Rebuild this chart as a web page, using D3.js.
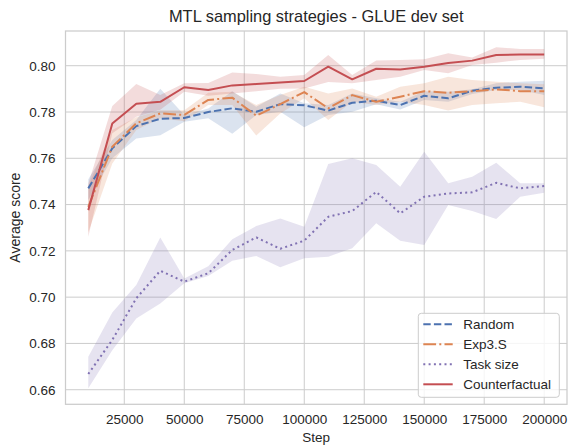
<!DOCTYPE html>
<html><head><meta charset="utf-8">
<script src="https://cdn.jsdelivr.net/npm/d3@7"></script>
<style>html,body{margin:0;padding:0;background:#fff;}</style>
</head><body>
<svg id="c" width="571" height="446"></svg>
<script>
const steps = [10000,20000,30000,40000,50000,60000,70000,80000,90000,100000,110000,120000,130000,140000,150000,160000,170000,180000,190000,200000];
const xTicks = [25000,50000,75000,100000,125000,150000,175000,200000];
const yTicks = [0.66,0.68,0.70,0.72,0.74,0.76,0.78,0.80];

const randomMean = [0.747,0.7643,0.7739,0.7771,0.7774,0.780,0.7816,0.7801,0.7834,0.7829,0.7806,0.784,0.7849,0.783,0.787,0.7859,0.7892,0.7905,0.7909,0.7902];
const randomLo   = [0.742,0.760,0.7686,0.770,0.7758,0.7773,0.7706,0.7787,0.7801,0.7734,0.7787,0.7801,0.7834,0.7811,0.7852,0.7844,0.7878,0.7895,0.7895,0.7873];
const randomHi   = [0.7509,0.7679,0.7765,0.790,0.7787,0.7815,0.789,0.7823,0.788,0.7838,0.783,0.788,0.7859,0.7844,0.789,0.7888,0.7898,0.7924,0.7931,0.7935];

const exp3Mean = [0.739,0.765,0.7751,0.7794,0.7787,0.7852,0.7862,0.7784,0.7834,0.7886,0.7816,0.7873,0.7844,0.7866,0.789,0.7883,0.789,0.7898,0.789,0.789];
const exp3Lo   = [0.728,0.7578,0.7722,0.7773,0.776,0.783,0.783,0.7698,0.7794,0.7859,0.7765,0.7844,0.783,0.7844,0.783,0.7806,0.783,0.7838,0.7844,0.782];
const exp3Hi   = [0.748,0.7722,0.7777,0.7808,0.7808,0.7883,0.7888,0.783,0.7873,0.7909,0.788,0.7902,0.7866,0.7909,0.7924,0.7952,0.7938,0.7931,0.7924,0.792];

const taskMean = [0.6668,0.6815,0.6995,0.7114,0.7067,0.7103,0.7204,0.7258,0.7209,0.7244,0.7347,0.7372,0.7455,0.7362,0.7434,0.7448,0.7453,0.7494,0.747,0.748];
const taskLo   = [0.6606,0.6771,0.6908,0.6973,0.706,0.7091,0.7157,0.7178,0.7129,0.7168,0.7175,0.7211,0.7319,0.7244,0.7225,0.7398,0.7372,0.7338,0.7434,0.7451];
const taskHi   = [0.6742,0.6934,0.7052,0.7258,0.7081,0.7134,0.725,0.7307,0.734,0.7304,0.7575,0.760,0.7571,0.7477,0.7628,0.7492,0.752,0.7581,0.7492,0.7492];

const cfMean = [0.7376,0.775,0.7836,0.7844,0.7907,0.7895,0.7915,0.7921,0.7927,0.7934,0.7996,0.7941,0.7987,0.7984,0.7996,0.8012,0.8022,0.8046,0.8048,0.8048];
const cfLo   = [0.7261,0.7708,0.778,0.781,0.7888,0.787,0.788,0.789,0.790,0.7902,0.793,0.7924,0.7938,0.7952,0.7981,0.7967,0.8003,0.8013,0.8025,0.803];
const cfHi   = [0.749,0.7826,0.7921,0.7873,0.7924,0.7925,0.7971,0.7964,0.7952,0.796,0.8046,0.796,0.8022,0.8025,0.8028,0.8054,0.8036,0.808,0.8072,0.8072];

const seriesNames = ["Random","Exp3.S","Task size","Counterfactual"];
const colors = ["#4c72b0","#dd8452","#8172b3","#c44e52"];
const dashes = ["7.4,3.2","12.8,3.2,2,3.2","2,3.3",null];

const series = [
  {name: seriesNames[0], mean: randomMean, lo: randomLo, hi: randomHi, color: colors[0], dash: dashes[0]},
  {name: seriesNames[1], mean: exp3Mean, lo: exp3Lo, hi: exp3Hi, color: colors[1], dash: dashes[1]},
  {name: seriesNames[2], mean: taskMean, lo: taskLo, hi: taskHi, color: colors[2], dash: dashes[2]},
  {name: seriesNames[3], mean: cfMean, lo: cfLo, hi: cfHi, color: colors[3], dash: dashes[3]}
];

const svg = d3.select("#c");
const L = 65.5, R = 567, T = 31, B = 404.3;
const x = d3.scaleLinear().domain([500, 209500]).range([L, R]);
const y = d3.scaleLinear().domain([0.6537, 0.815]).range([B, T]);
const font = "'Liberation Sans', Arial, sans-serif";
const txt = "#262626";

// grid
const g = svg.append("g");
g.selectAll(".vg").data(xTicks).enter().append("line")
  .attr("x1", d => x(d)).attr("x2", d => x(d)).attr("y1", T).attr("y2", B)
  .attr("stroke", "#cccccc").attr("stroke-width", 1);
g.selectAll(".hg").data(yTicks).enter().append("line")
  .attr("y1", d => y(d)).attr("y2", d => y(d)).attr("x1", L).attr("x2", R)
  .attr("stroke", "#cccccc").attr("stroke-width", 1);

// bands
const area = (s) => d3.area().x((d,i) => x(steps[i])).y0((d,i) => y(s.lo[i])).y1((d,i) => y(s.hi[i]));
series.forEach(s => {
  svg.append("path").datum(s.mean).attr("d", area(s)).attr("fill", s.color).attr("fill-opacity", 0.2).attr("stroke","none");
});
const line = d3.line().x((d,i) => x(steps[i])).y(d => y(d));
series.forEach(s => {
  const p = svg.append("path").datum(s.mean).attr("d", line).attr("fill","none")
    .attr("stroke", s.color).attr("stroke-width", 2).attr("stroke-linejoin","round");
  if (s.dash) p.attr("stroke-dasharray", s.dash);
});

// frame
svg.append("rect").attr("x", L).attr("y", T).attr("width", R-L).attr("height", B-T)
  .attr("fill","none").attr("stroke","#cccccc").attr("stroke-width",1.25);

// axes
const xAxis = d3.axisBottom(x).tickValues(xTicks).tickSize(0).tickPadding(10).tickFormat(d3.format("d"));
const xa = svg.append("g").attr("transform", `translate(0,${B})`).call(xAxis);
const yAxis = d3.axisLeft(y).tickValues(yTicks).tickSize(0).tickPadding(10).tickFormat(d3.format(".2f"));
const ya = svg.append("g").attr("transform", `translate(${L},0)`).call(yAxis);
[xa, ya].forEach(a => {
  a.select(".domain").remove();
  a.selectAll("text").attr("font-family", font).attr("font-size", 13.5).attr("fill", txt);
});

// titles
svg.append("text").attr("x", (L+R)/2).attr("y", 22).attr("text-anchor","middle")
  .attr("font-family", font).attr("font-size", 16.4).attr("fill", txt).text("MTL sampling strategies - GLUE dev set");
svg.append("text").attr("x", (L+R)/2).attr("y", 442).attr("text-anchor","middle")
  .attr("font-family", font).attr("font-size", 13.5).attr("fill", txt).text("Step");
svg.append("text").attr("transform", `translate(20,${(T+B)/2}) rotate(-90)`).attr("text-anchor","middle")
  .attr("font-family", font).attr("font-size", 14).attr("fill", txt).text("Average score");

// legend
const lg = svg.append("g");
lg.append("rect").attr("x", 418.3).attr("y", 313.3).attr("width", 141).attr("height", 84).attr("rx", 3)
  .attr("fill", "#ffffff").attr("fill-opacity", 0.8).attr("stroke", "#cccccc").attr("stroke-width", 1);
series.forEach((s, i) => {
  const yy = 324.3 + i*20;
  const l = lg.append("line").attr("x1", 423.3).attr("x2", 452.7).attr("y1", yy).attr("y2", yy)
    .attr("stroke", s.color).attr("stroke-width", 2);
  if (s.dash) l.attr("stroke-dasharray", s.dash);
  lg.append("text").attr("x", 463.3).attr("y", yy).attr("dy", "0.35em")
    .attr("font-family", font).attr("font-size", 13.5).attr("fill", txt).text(s.name);
});
</script>
</body></html>
